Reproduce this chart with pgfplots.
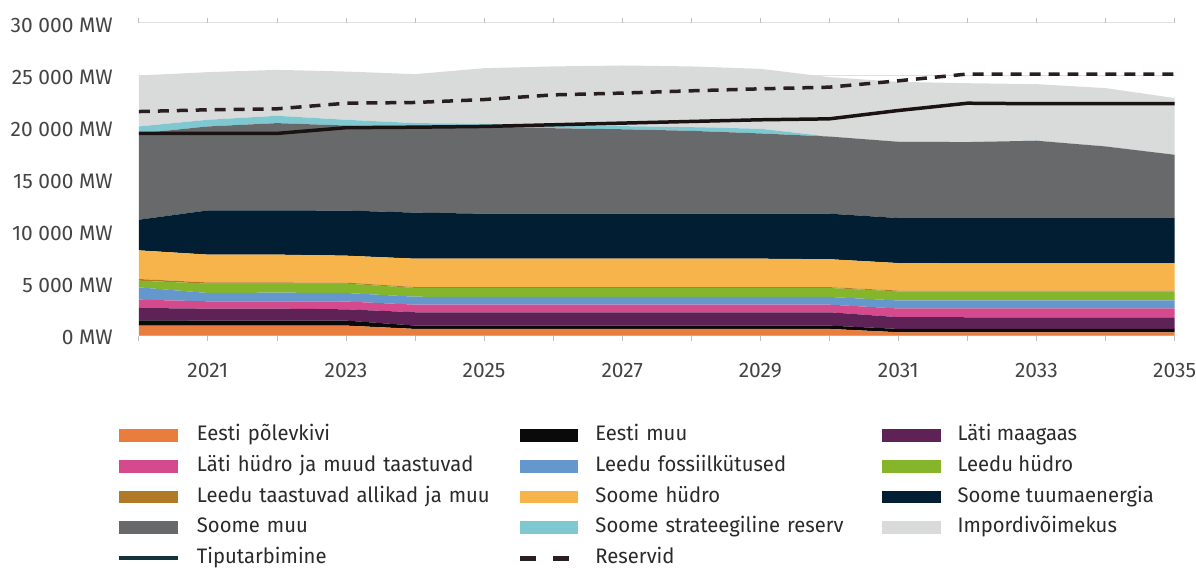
\documentclass[border=0pt]{standalone}
\usepackage{fontspec}
\setmainfont{Fira Sans}
\newfontfamily\legfont{Fira Sans}[FakeStretch=0.965]
\usepackage{pgfplots}
\usepackage{pgfplotstable}
\pgfplotsset{compat=1.18}
\definecolor{cOr}{HTML}{E97D3D}
\definecolor{cBk}{HTML}{0A0A0A}
\definecolor{cPu}{HTML}{5E2257}
\definecolor{cPk}{HTML}{D44A8C}
\definecolor{cBl}{HTML}{6497CB}
\definecolor{cGr}{HTML}{84B52B}
\definecolor{cBr}{HTML}{B07A27}
\definecolor{cYe}{HTML}{F6B44A}
\definecolor{cNv}{HTML}{021E32}
\definecolor{cGy}{HTML}{68696B}
\definecolor{cLb}{HTML}{7FC8D2}
\definecolor{cIm}{HTML}{D9DADA}
\definecolor{cPeak}{HTML}{1B1212}
\definecolor{cPeakLeg}{HTML}{16323A}
\definecolor{cRes}{HTML}{2A1F1F}
\definecolor{labgray}{HTML}{444444}
\definecolor{legtext}{HTML}{2A2A2A}
\pgfplotsset{areaimg/.style={legend image code/.code={\fill[##1] (0bp,-6.25bp) rectangle (59bp,6.25bp);}}}
\pgfplotstableread{
year or bk pu pk bl gr br ye nv gy lb im peak res
2020 960 510 1180 800 1180 640 160 2750 2940 8280 670 4890 19400 21500
2021 960 480 1150 700 800 900 110 2670 4240 8060 640 4570 19400 21670
2022 960 480 1150 700 830 870 110 2670 4240 8380 700 4410 19400 21760
2023 960 480 1080 750 820 900 90 2590 4330 8160 550 4630 19950 22300
2024 640 320 1280 730 760 850 80 2720 4420 8360 230 4700 20000 22370
2025 640 320 1280 730 740 870 80 2720 4320 8370 260 5330 20070 22650
2026 640 320 1280 730 740 870 80 2720 4320 8200 200 5730 20230 23100
2027 640 320 1280 730 740 870 80 2720 4320 8100 300 5820 20390 23270
2028 640 320 1280 730 740 870 80 2720 4320 7950 350 5830 20550 23490
2029 640 320 1280 730 740 870 80 2720 4320 7700 450 5750 20710 23680
2030 640 320 1280 730 740 860 80 2680 4370 7400 0 5700 20800 23840
2031 320 320 1130 830 770 870 80 2640 4320 7320 0 5750 21600 24450
2032 320 320 1120 860 750 880 70 2610 4350 7290 0 5650 22300 25100
2033 320 320 1120 860 750 880 70 2610 4350 7420 0 5430 22250 25100
2034 320 320 1120 860 750 880 70 2610 4350 6870 0 5600 22250 25100
2035 320 320 1120 860 750 880 70 2610 4350 6070 0 5440 22250 25100
}\datatable
\begin{document}
\begin{tikzpicture}
\begin{axis}[
  set layers,
  scale only axis, width=1037bp, height=313bp,
  xmin=2020, xmax=2035, ymin=0, ymax=30000,
  stack plots=y,
  scaled y ticks=false,
  axis line style={draw=none},
  xtick={2020,2021,...,2035},
  xticklabels={,2021,,2023,,2025,,2027,,2029,,2031,,2033,,2035},
  ytick={0,5000,...,30000},
  yticklabels={0 MW,5 000 MW,10 000 MW,15 000 MW,20 000 MW,25 000 MW,30 000 MW},
  ymajorgrids, grid style={draw=black!12, line width=1bp},
  tick align=outside, major tick length=5bp,
  xtick style={draw=black!25, line width=0.8bp},
  ytick style={draw=none},
  ticklabel style={font=\fontsize{21bp}{23bp}\selectfont, text=labgray},
  yticklabel style={anchor=east, inner sep=0pt, xshift=-21bp, yshift=-2bp},
  xticklabel style={anchor=base, inner sep=0pt, yshift=-37bp},
  legend columns=3,
  legend style={at={(axis description cs:-0.02122,-0.2940)}, anchor=north west,
    draw=none, fill=none, inner sep=0pt, column sep=17bp, row sep=14.7bp,
    nodes={anchor=west, inner sep=0pt, text height=13bp, text depth=3bp,
      font=\legfont\fontsize{21bp}{23bp}\selectfont, text=legtext},
    /tikz/column 2/.style={nodes={text width=303.5bp, align=left}},
    /tikz/column 4/.style={nodes={text width=269.5bp, align=left}},
  },
]
\addplot[fill=cOr, draw=none, areaimg] table[x=year,y=or]{\datatable} \closedcycle;
\addplot[fill=cBk, draw=none, areaimg] table[x=year,y=bk]{\datatable} \closedcycle;
\addplot[fill=cPu, draw=none, areaimg] table[x=year,y=pu]{\datatable} \closedcycle;
\addplot[fill=cPk, draw=none, areaimg] table[x=year,y=pk]{\datatable} \closedcycle;
\addplot[fill=cBl, draw=none, areaimg] table[x=year,y=bl]{\datatable} \closedcycle;
\addplot[fill=cGr, draw=none, areaimg] table[x=year,y=gr]{\datatable} \closedcycle;
\addplot[fill=cBr, draw=none, areaimg] table[x=year,y=br]{\datatable} \closedcycle;
\addplot[fill=cYe, draw=none, areaimg] table[x=year,y=ye]{\datatable} \closedcycle;
\addplot[fill=cNv, draw=none, areaimg] table[x=year,y=nv]{\datatable} \closedcycle;
\addplot[fill=cGy, draw=none, areaimg] table[x=year,y=gy]{\datatable} \closedcycle;
\addplot[fill=cLb, draw=none, areaimg] table[x=year,y=lb]{\datatable} \closedcycle;
\addplot[fill=cIm, draw=none, areaimg] table[x=year,y=im]{\datatable} \closedcycle;
\addplot[stack plots=false, on layer=axis foreground, draw=cPeak, line width=3.5bp, line join=round,
  legend image code/.code={\draw[cPeakLeg, line width=4bp] (0bp,0bp) -- (59bp,0bp);}]
  table[x=year,y=peak]{\datatable};
\addplot[stack plots=false, on layer=axis foreground, draw=cRes, line width=3.5bp, dash pattern=on 11bp off 8bp,
  legend image code/.code={\draw[cRes, line width=5bp, dash pattern=on 16bp off 17bp] (0bp,0bp) -- (49bp,0bp);}]
  table[x=year,y=res]{\datatable};
\legend{Eesti põlevkivi, Eesti muu, Läti maagaas, Läti hüdro ja muud taastuvad,
  Leedu fossiilkütused, Leedu hüdro, Leedu taastuvad allikad ja muu, Soome hüdro,
  Soome tuumaenergia, Soome muu, Soome strateegiline reserv, Impordivõimekus,
  Tiputarbimine, Reservid}
\end{axis}
\path (-139bp,-232bp) rectangle (1057bp,336bp);
\end{tikzpicture}
\end{document}
